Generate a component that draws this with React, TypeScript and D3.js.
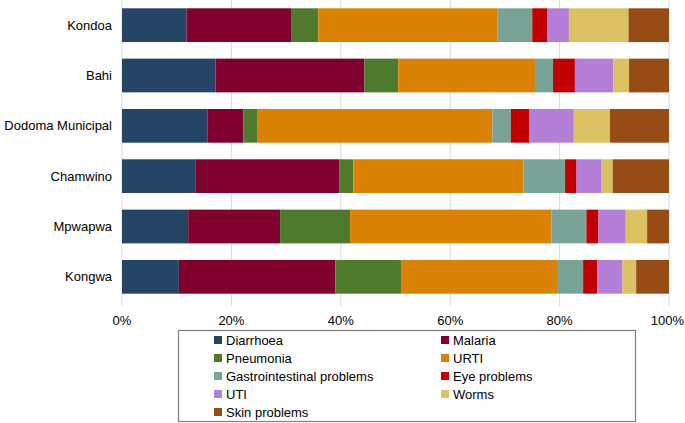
import React, { useRef, useEffect } from "react";
import * as d3 from "d3";

const districts = ["Kondoa", "Bahi", "Dodoma Municipal", "Chamwino", "Mpwapwa", "Kongwa"];
const diseases = [
  "Diarrhoea",
  "Malaria",
  "Pneumonia",
  "URTI",
  "Gastrointestinal problems",
  "Eye problems",
  "UTI",
  "Worms",
  "Skin problems",
];
const colors = ["#254466", "#80002e", "#4e7a2e", "#d98205", "#7aa398", "#c00000", "#b47fd9", "#dcc162", "#964c14"];

// percent share per district, same order as diseases
const kondoa = [11.8, 19.1, 5.0, 32.8, 6.3, 2.8, 3.9, 10.9, 7.4];
const bahi = [17.1, 27.2, 6.2, 25.0, 3.3, 4.0, 7.0, 2.9, 7.3];
const dodoma = [15.6, 6.6, 2.5, 43.0, 3.4, 3.3, 8.2, 6.6, 10.8];
const chamwino = [13.4, 26.3, 2.6, 31.1, 7.6, 2.1, 4.6, 2.0, 10.3];
const mpwapwa = [12.1, 16.8, 12.8, 36.8, 6.4, 2.2, 5.0, 3.9, 4.0];
const kongwa = [10.4, 28.6, 12.0, 28.7, 4.6, 2.6, 4.6, 2.5, 6.0];
const values = [kondoa, bahi, dodoma, chamwino, mpwapwa, kongwa];

const xTicks = [0, 0.2, 0.4, 0.6, 0.8, 1];

const App = () => {
  const ref = useRef<SVGSVGElement>(null);

  useEffect(() => {
    const svg = d3.select(ref.current);
    svg.selectAll("*").remove();
    const font = "'Liberation Sans', Arial, sans-serif";

    const x = d3.scaleLinear().domain([0, 1]).range([122, 669]);
    const y = d3.scaleBand().domain(districts).range([0, 302]).paddingInner(0.33).paddingOuter(0.165);

    // gridlines
    svg
      .append("g")
      .selectAll("line")
      .data(xTicks)
      .enter()
      .append("line")
      .attr("x1", (d) => x(d))
      .attr("x2", (d) => x(d))
      .attr("y1", 0)
      .attr("y2", 306)
      .attr("stroke", "#d9d9e3")
      .attr("stroke-width", 1);

    const rows = districts.map((name, i) => {
      const total = d3.sum(values[i]);
      const row: any = { name };
      diseases.forEach((s, j) => (row[s] = values[i][j] / total));
      return row;
    });
    const stack = d3.stack().keys(diseases)(rows);

    svg
      .append("g")
      .selectAll("g")
      .data(stack)
      .enter()
      .append("g")
      .attr("fill", (d, i) => colors[i])
      .selectAll("rect")
      .data((d) => d)
      .enter()
      .append("rect")
      .attr("x", (d) => x(d[0]))
      .attr("width", (d) => x(d[1]) - x(d[0]))
      .attr("y", (d) => y((d.data as any).name)!)
      .attr("height", y.bandwidth());

    // category labels
    svg
      .append("g")
      .selectAll("text")
      .data(districts)
      .enter()
      .append("text")
      .attr("x", 112)
      .attr("y", (d) => y(d)! + y.bandwidth() / 2)
      .attr("dy", "0.35em")
      .attr("text-anchor", "end")
      .style("font-family", font)
      .style("font-size", "13px")
      .attr("fill", "#000")
      .text((d) => d);

    // x labels
    svg
      .append("g")
      .selectAll("text")
      .data(xTicks)
      .enter()
      .append("text")
      .attr("x", (d) => (d === 1 ? 684 : x(d)))
      .attr("y", 325)
      .attr("text-anchor", (d) => (d === 1 ? "end" : "middle"))
      .style("font-family", font)
      .style("font-size", "13px")
      .attr("fill", "#000")
      .text((d) => d3.format(".0%")(d));

    // legend
    const lg = svg.append("g");
    lg.append("rect")
      .attr("x", 178.5)
      .attr("y", 330.5)
      .attr("width", 457)
      .attr("height", 91)
      .attr("fill", "#fff")
      .attr("stroke", "#7f7f7f")
      .attr("stroke-width", 1.2);
    const item = lg
      .selectAll("g.item")
      .data(diseases)
      .enter()
      .append("g")
      .attr("class", "item")
      .attr("transform", (d, i) => `translate(${i % 2 === 0 ? 214 : 441}, ${340 + Math.floor(i / 2) * 18})`);
    item
      .append("rect")
      .attr("x", 0)
      .attr("y", -4)
      .attr("width", 8)
      .attr("height", 8)
      .attr("fill", (d, i) => colors[i]);
    item
      .append("text")
      .attr("x", 12)
      .attr("y", 0)
      .attr("dy", "0.35em")
      .style("font-family", font)
      .style("font-size", "13px")
      .attr("fill", "#000")
      .text((d) => d);
  }, []);

  return (
    <svg
      ref={ref}
      width={685}
      height={423}
      style={{ position: "absolute", left: 0, top: 0, display: "block" }}
    ></svg>
  );
};

export default App;
